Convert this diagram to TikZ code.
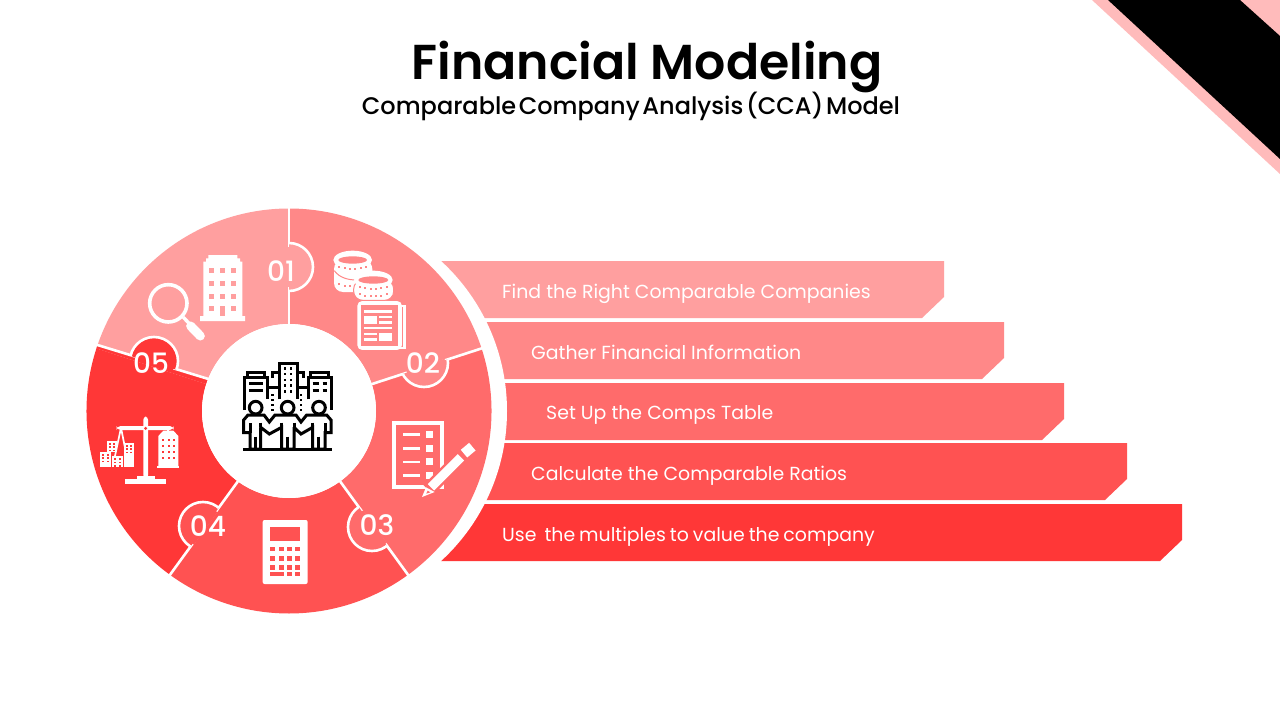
\documentclass[tikz,border=0pt]{standalone}
\usepackage{fontspec}
\setmainfont{Poppins}
\newfontfamily\pbold{Poppins}[UprightFont=* SemiBold]
\newfontfamily\pmed{Poppins}[UprightFont=* Medium]
\definecolor{sone}{HTML}{FF9F9F}
\definecolor{stwo}{HTML}{FF8888}
\definecolor{sthree}{HTML}{FF6B6B}
\definecolor{sfour}{HTML}{FF5252}
\definecolor{sfive}{HTML}{FF3737}
\definecolor{cornerpink}{HTML}{FFBBBB}
\tikzset{
  bartext/.style={anchor=base west,text=white,font=\fontsize{18.9}{20}\selectfont,inner sep=0pt},
  numtext/.style={anchor=center,text=white,font=\pmed\fontsize{28}{28}\selectfont,inner sep=0pt},
  zoomA/.style={shift={(80,200)},scale=1/3},
  zoomB/.style={shift={(285,200)},scale=1/3},
  zoomC/.style={shift={(285,400)},scale=1/3},
  zoomD/.style={shift={(80,400)},scale=1/3},
  zoomE/.style={shift={(220,340)},scale=1/3},
}
\begin{document}
\begin{tikzpicture}[x=1pt,y=-1pt]
\fill[white,use as bounding box] (0,0) rectangle (1280,720);
% corner
\fill[cornerpink] (1092,0) -- (1280,0) -- (1280,174) -- cycle;
\fill[black] (1108,0) -- (1240,0) -- (1280,36) -- (1280,159) -- cycle;
% bars
\foreach \c/\t/\r in {sone/261/944,stwo/322/1004,sthree/383/1064,sfour/443/1127,sfive/504/1182}{
  \fill[\c] (430,\t) -- (\r,\t) -- (\r,\t+36) -- (\r-22,\t+57) -- (430,\t+57) -- cycle;
}
\fill[white] (303.5,411) circle[radius=203.5];
\fill[white] (400,200) rectangle (441,261);
\fill[white] (400,561) rectangle (441,620);
% wheel
\begin{scope}[shift={(289,411)},y=1pt]
  \foreach \c/\a in {sone/162,stwo/90,sthree/18,sfour/-54,sfive/-126}{
    \fill[\c] (\a:87) -- (\a:202.5) arc[start angle=\a,end angle=\a-72,radius=202.5]
      -- (\a-72:87) arc[start angle=\a-72,end angle=\a,radius=87] -- cycle;
  }
  % the 05/01 boundary is not quite radial
  \fill[sfive] (162:202.5) arc[start angle=162,end angle=161,radius=202.5] -- (158.3:87) arc[start angle=158.3,end angle=162,radius=87] -- cycle;
  \foreach \a in {90,18,-54,-126}{
    \draw[white,line width=2.6pt] (\a:86) -- (\a:204);
  }
  \draw[white,line width=2.6pt] (158.3:86) -- (161:204);
  \foreach \c/\a/\px/\py in {sone/90/0/144,stwo/18/135/48,sthree/-54/83/-116,sfour/-126/-86/-115}{
    \begin{scope}
      \clip[rotate=\a] (0,0) rectangle (300,-300);
      \fill[\c] (\px,\py) circle[radius=24];
      \draw[white,line width=2.6pt] (\px,\py) circle[radius=24];
    \end{scope}
    \draw[\c,line width=3.4pt] (\a:124) -- (\a:164);
  }
  \begin{scope}
    \clip[shift={(-135,48)},rotate=163.3] (-300,0) rectangle (300,-300);
    \fill[sfive] (-135,50) circle[radius=24];
    \draw[white,line width=2.6pt] (-135,50) circle[radius=24];
  \end{scope}
  \draw[sfive,line width=3.4pt,shift={(-135,48)},rotate=163.3] (-20,0) -- (20,0);
\end{scope}
\fill[white] (289,411) circle[radius=87];
% numbers
\node[numtext] (n1) at (281,271) {01};
\node[numtext] (n2) at (423,363) {02};
\node[numtext] (n3) at (377,525) {03};
\node[numtext] (n4) at (208,526) {04};
\node[numtext] (n5) at (151,363) {05};
% building + magnifier
\begin{scope}[zoomA]
  \fill[white] (385,165) -- (472,165) -- (472,175) -- (480,175) -- (480,185) -- (487,185) -- (487,348) -- (495,348) -- (495,363) -- (360,363) -- (360,348) -- (370,348) -- (370,185) -- (378,185) -- (378,175) -- (385,175) -- cycle;
  \foreach \x in {388,420,453}{\foreach \y in {205,243,282,318}{\fill[sone] (\x,\y) rectangle (\x+14,\y+14);}}
  \fill[sone] (420,318) rectangle (434,348);
  \draw[white,line width=3.6pt] (265,310) circle[radius=56];
  \draw[white,line width=3.4pt] (310,352) -- (335,378);
  \draw[white,line width=9pt,line cap=round] (332,378) -- (361,408);
\end{scope}
% coins + newspaper
\begin{scope}[zoomB]
  \fill[white,rounded corners=9pt] (147,180) rectangle (262,276);
  \fill[white] (203,180) ellipse[x radius=58,y radius=28];
  \draw[stwo,line width=1pt] (148,212) .. controls (165,236) and (195,240) .. (215,240);
  \fill[stwo] (203,180) ellipse[x radius=43,y radius=11];
  \foreach \dx in {-40,-24,-8,8,24,40}{
    \pgfmathsetmacro\dy{24*sqrt(1-(\dx/62)^2)}
    \fill[stwo] (203+\dx-3,180+\dy) rectangle (203+\dx+3,180+\dy+6);
    \fill[stwo] (203+\dx-3,232+\dy) rectangle (203+\dx+3,232+\dy+6);
  }
  \fill[white,rounded corners=9pt,draw=stwo,line width=1pt] (206,240) rectangle (326,301);
  \fill[white] (265,240) ellipse[x radius=58,y radius=28];
  \fill[stwo] (265,240) ellipse[x radius=45,y radius=11];
  \foreach \dx in {-40,-24,-8,8,24,40}{
    \pgfmathsetmacro\dy{24*sqrt(1-(\dx/62)^2)}
    \fill[stwo] (265+\dx-3,240+\dy) rectangle (265+\dx+3,240+\dy+6);
    \fill[stwo] (265+\dx-3,262+\dy) rectangle (265+\dx+3,262+\dy+6);
  }
  \draw[white,line width=3.8pt,rounded corners=3pt] (223,309) rectangle (345,444);
  \fill[stwo] (229,315) rectangle (339,438);
  \draw[white,line width=2.6pt] (345,318) -- (359,318) -- (359,444) -- (335,444);
  \fill[white] (238,330) rectangle (320,338);
  \fill[white] (238,347) rectangle (275,372);
  \fill[white] (283,347) rectangle (320,355);
  \fill[white] (283,363) rectangle (320,372);
  \fill[white] (238,380) rectangle (320,388);
  \fill[white] (238,398) rectangle (275,405);
  \fill[white] (238,415) rectangle (275,423);
  \fill[white] (283,398) rectangle (320,423);
\end{scope}
% checklist + pencil
\begin{scope}[zoomC]
  \draw[white,line width=4pt] (326,69) rectangle (472,261);
  \foreach \y in {100,141,182,223}{
    \fill[white] (353,\y) rectangle (405,\y+8);
    \fill[white] (424,\y-7) rectangle (445,\y+14);
  }
  \draw[sthree,line width=14pt] (430,270) -- (525,175);
  \draw[white,line width=9pt] (438,262) -- (528,172);
  \draw[white,line width=10pt,line cap=butt,rounded corners=1pt] (537,161) -- (562,140);
  \fill[white] (411,291) -- (423,262) -- (449,276) -- cycle;
  \fill[sthree] (424,281) -- (428,272) -- (436,277) -- cycle;
\end{scope}
% calculator
\begin{scope}[zoomD]
  \fill[white,rounded corners=2pt] (548,360) rectangle (683,552);
  \fill[sfour] (570,382) rectangle (660,422);
  \foreach \x in {570,596,620,645}{\foreach \y in {440,468,495}{\fill[sfour] (\x,\y) rectangle (\x+15,\y+14);}}
  \fill[sfour] (570,515) rectangle (612,528);
  \fill[sfour] (620,515) rectangle (635,528);
  \fill[sfour] (645,515) rectangle (660,528);
  % scale
  \fill[white,rounded corners=3pt] (190,50) rectangle (204,235);
  \fill[white,rounded corners=4pt] (110,78) rectangle (281,90);
  \fill[white] (170,228) rectangle (225,240);
  \fill[white] (135,237) rectangle (257,252);
  \fill[sfive] (197,85) circle[radius=5];
  \draw[white,line width=1.7pt] (122,88) -- (105,168) (124,88) -- (140,168);
  \draw[white,line width=1.7pt] (265,88) -- (265,100);
  % left buildings
  \foreach \xa/\ya/\xb/\yb in {80/122/110/155,60/155/93/202,95/168/130/202,133/128/163/202}{
    \fill[white] (\xa,\ya) rectangle (\xb,\yb);
    \foreach \u in {0.2,0.6}{
      \pgfmathsetmacro\wx{\xa+(\xb-\xa)*\u}
      \foreach \yy in {\ya+7,\ya+17,\ya+27}{\fill[sfive] (\wx,\yy) rectangle (\wx+6,\yy+5);}
    }
  }
  % right building
  \fill[white] (250,92) -- (280,92) -- (295,108) -- (295,198) -- (235,198) -- (235,108) -- cycle;
  \fill[white] (232,198) rectangle (297,205);
  \foreach \wx in {246,263,280}{\foreach \yy in {118,136,154,172}{\fill[sfive] (\wx,\yy) rectangle (\wx+6,\yy+6);}}
\end{scope}
% centre icon
\begin{scope}[zoomE,draw=black,line width=3pt]
  \draw (70,327) -- (335,327);
  % buildings
  \draw (82,113) -- (82,97) -- (132,97) -- (132,113);
  \draw (73,210) -- (73,113) -- (143,113) -- (143,178);
  \draw (88,130) -- (130,130) (88,150) -- (130,150);
  \draw (177,178) -- (177,70) -- (232,70) -- (232,178);
  \draw (177,97) -- (158,97) -- (158,113);
  \draw (232,97) -- (250,97) -- (250,113);
  \draw (265,178) -- (265,113) -- (333,113) -- (333,210);
  \draw (143,143) -- (177,143) (232,143) -- (265,143);
  \draw (272,113) -- (272,97) -- (325,97) -- (325,113);
  \draw (278,130) -- (298,130) (308,130) -- (322,130) (278,150) -- (298,150) (308,150) -- (322,150);
  \foreach \x in {195,213}{\foreach \y in {85,102,120,137,154}{\fill[black] (\x-4,\y-4) rectangle (\x+4,\y+4);}}
  \foreach \x in {157,243}{\foreach \y in {165,180,195,210}{\fill[black] (\x-4,\y-4) rectangle (\x+4,\y+4);}}
  % people
  \foreach \x in {107,203,297}{\draw[fill=white] (\x,203) circle[radius=19];}
  \draw[fill=white,miter limit=2] (71,278) -- (71,240) -- (84,225) -- (132,225) -- (148,246) -- (165,225) -- (228,225) -- (243,246) -- (260,225) -- (320,225) -- (333,240) -- (333,278) -- (315,278) -- (315,327) -- (278,327) -- (278,262) -- (243,282) -- (222,262) -- (222,327) -- (185,327) -- (185,262) -- (148,282) -- (122,262) -- (122,327) -- (90,327) -- (90,278) -- cycle;
  \draw (90,250) -- (90,278) (315,250) -- (315,278);
  \draw (107,290) -- (107,327) (203,290) -- (203,327) (296,290) -- (296,327);
  \draw (122,248) -- (122,262) (185,248) -- (185,262) (222,248) -- (222,262) (278,248) -- (278,262);
\end{scope}
% bar text
\node[bartext] (t1) at (502,298) {Find the Right Comparable Companies};
\node[bartext] (t2) at (531,359) {Gather Financial Information};
\node[bartext] (t3) at (546,419) {Set Up the Comps Table};
\node[bartext] (t4) at (531,480) {Calculate the Comparable Ratios};
\node[bartext] (t5) at (502,541) {\spaceskip=4pt Use\ \ the multiples to value the company};
% title
\node[anchor=base,inner sep=0pt,font=\pbold\fontsize{49}{49}\selectfont] (title) at (647,79) {Financial Modeling};
\node[anchor=base,inner sep=0pt,font=\pmed\fontsize{24}{24}\selectfont] (sub) at (631,114) {\spaceskip=2.7pt Comparable Company Analysis (CCA) Model};
\end{tikzpicture}
\end{document}
